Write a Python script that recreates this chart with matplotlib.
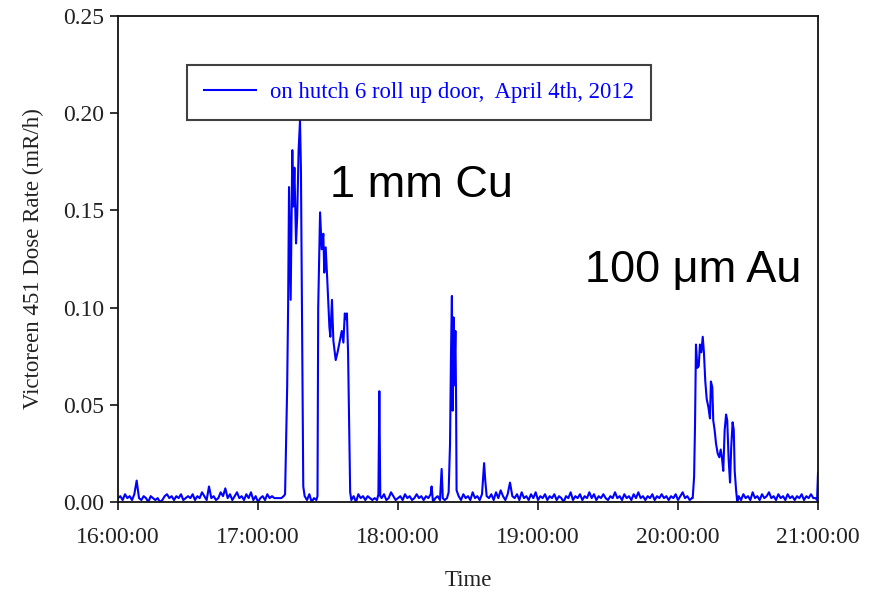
import matplotlib
matplotlib.use("Agg")
import matplotlib.pyplot as plt

# ---- data: minutes after 16:00:00 and Victoreen 451 dose rate (mR/h) ----
time_min = [
    0, 1, 2, 3, 4, 5, 6, 7, 8, 9, 10, 11, 12, 13, 14, 15, 16, 17, 18, 19,
    20, 21, 22, 23, 24, 25, 26, 27, 28, 29, 30, 31, 32, 33, 34, 35, 36, 37, 38, 39,
    40, 41, 42, 43, 44, 45, 46, 47, 48, 49, 50, 51, 52, 53, 54, 55, 56, 57, 58, 59,
    60, 61, 62, 63, 64, 65, 66, 67, 68, 69, 70, 71,
    71.6, 72.5, 72.9, 73.3, 74.0, 74.7, 75.1, 75.6, 76.3, 76.8, 77.4, 78.0, 78.4, 79.0, 79.4,
    80, 81, 82, 83, 84, 85, 85.5,
    85.8, 86.6, 87.3, 88.0, 88.4, 89.0, 89.7, 90.6, 91.0, 91.7, 92.3, 93.3, 94.1, 95.1,
    95.9, 96.6, 97.2, 97.7, 98.1, 98.6, 99.1, 99.5,
    100, 101, 102, 103, 104, 105, 106, 107, 108, 109, 110, 111, 111.6, 112.0, 112.4,
    113, 114, 115, 116, 117, 118, 119, 120, 121, 122, 123, 124, 125, 126, 127, 128,
    129, 130, 131, 132, 133, 134, 134.4, 135, 136, 137, 138, 138.7, 139.2, 140, 141, 141.7,
    142.3, 142.7, 143.1, 143.4, 143.8, 144.1, 144.6, 144.9, 145.1,
    146, 147, 148, 149, 150, 151, 152, 153, 154, 155, 156, 156.9, 157.4, 158, 159,
    160, 161, 162, 163, 164, 165, 166, 167, 168, 169, 170, 171, 172, 173, 174, 175,
    176, 177, 178, 179, 180, 181, 182, 183, 184, 185, 186, 187, 188, 189, 190, 191,
    192, 193, 194, 195, 196, 197, 198, 199, 200, 201, 202, 203, 204, 205, 206, 207,
    208, 209, 210, 211, 212, 213, 214, 215, 216, 217, 218, 219, 220, 221, 222, 223,
    224, 225, 226, 227, 228, 229, 230, 231, 232, 233, 234, 235, 236, 237, 238, 239,
    240, 241, 242, 243, 244, 245, 246, 246.3,
    246.9, 247.3, 247.7, 248.3, 248.9, 249.4, 250.0, 250.6, 251.1, 251.7, 252.3, 253.0,
    253.7, 254.1, 254.7, 255.1, 255.7, 256.3, 257.0, 257.7, 258.3, 258.9, 259.4, 260.0,
    260.6, 261.1, 261.7, 262.3, 262.8, 263.4, 263.9, 264.3, 264.9, 265.4,
    266, 267, 268, 269, 270, 271, 272, 273, 274, 275, 276, 277, 278, 279, 280, 281,
    282, 283, 284, 285, 286, 287, 288, 289, 290, 291, 292, 293, 294, 295, 296, 297,
    298, 299, 299.6, 300,
]
dose_rate = [
    0.002, 0.003, 0.001, 0.004, 0.002, 0.003, 0.001, 0.004, 0.011, 0.002, 0.001, 0.003, 0.002, 0.000, 0.003, 0.002, 0.001, 0.002, 0.000, 0.001,
    0.003, 0.004, 0.002, 0.003, 0.001, 0.003, 0.002, 0.004, 0.001, 0.002, 0.003, 0.002, 0.004, 0.001, 0.003, 0.002, 0.005, 0.003, 0.001, 0.008,
    0.002, 0.003, 0.001, 0.002, 0.005, 0.003, 0.007, 0.002, 0.004, 0.001, 0.003, 0.005, 0.002, 0.003, 0.001, 0.004, 0.002, 0.005, 0.001, 0.003,
    0.000, 0.002, 0.003, 0.001, 0.004, 0.002, 0.003, 0.002, 0.002, 0.002, 0.002, 0.003,
    0.004, 0.059, 0.100, 0.162, 0.104, 0.181, 0.152, 0.172, 0.133, 0.147, 0.181, 0.196, 0.171, 0.069, 0.008,
    0.003, 0.001, 0.004, 0.000, 0.002, 0.001, 0.003,
    0.100, 0.149, 0.130, 0.138, 0.118, 0.131, 0.114, 0.090, 0.085, 0.104, 0.083, 0.073, 0.077, 0.083,
    0.088, 0.082, 0.097, 0.094, 0.097, 0.077, 0.039, 0.005,
    0.001, 0.003, 0.000, 0.004, 0.002, 0.003, 0.001, 0.003, 0.002, 0.001, 0.002, 0.001, 0.004, 0.057, 0.003,
    0.002, 0.004, 0.001, 0.002, 0.005, 0.003, 0.001, 0.002, 0.003, 0.001, 0.004, 0.002, 0.003, 0.001, 0.002, 0.004,
    0.002, 0.003, 0.001, 0.003, 0.002, 0.004, 0.008, 0.000, 0.002, 0.003, 0.001, 0.017, 0.002, 0.001, 0.002, 0.005,
    0.030, 0.075, 0.106, 0.047, 0.095, 0.060, 0.088, 0.051, 0.006,
    0.003, 0.001, 0.004, 0.002, 0.003, 0.001, 0.005, 0.002, 0.003, 0.001, 0.004, 0.020, 0.011, 0.003, 0.002,
    0.004, 0.001, 0.005, 0.002, 0.006, 0.003, 0.001, 0.004, 0.010, 0.003, 0.002, 0.004, 0.001, 0.005, 0.002, 0.003,
    0.001, 0.004, 0.002, 0.005, 0.001, 0.003, 0.002, 0.004, 0.001, 0.003, 0.002, 0.004, 0.001, 0.003, 0.002, 0.000,
    0.003, 0.002, 0.005, 0.001, 0.003, 0.002, 0.004, 0.001, 0.003, 0.002, 0.005, 0.002, 0.004, 0.001, 0.003, 0.002,
    0.004, 0.002, 0.001, 0.003, 0.002, 0.005, 0.002, 0.003, 0.001, 0.004, 0.002, 0.003, 0.001, 0.004, 0.002, 0.005,
    0.002, 0.003, 0.001, 0.003, 0.002, 0.004, 0.001, 0.003, 0.002, 0.004, 0.002, 0.003, 0.001, 0.003, 0.002, 0.004,
    0.001, 0.003, 0.005, 0.002, 0.003, 0.001, 0.002, 0.002,
    0.013, 0.040, 0.081, 0.069, 0.070, 0.081, 0.077, 0.085, 0.077, 0.062, 0.053, 0.049,
    0.043, 0.062, 0.059, 0.042, 0.037, 0.030, 0.025, 0.023, 0.027, 0.022, 0.016, 0.037,
    0.045, 0.042, 0.022, 0.010, 0.028, 0.041, 0.037, 0.016, 0.006, 0.000,
    0.003, 0.001, 0.004, 0.002, 0.003, 0.001, 0.005, 0.002, 0.003, 0.001, 0.004, 0.002, 0.003, 0.005, 0.002, 0.003,
    0.001, 0.004, 0.002, 0.003, 0.001, 0.004, 0.002, 0.003, 0.001, 0.003, 0.002, 0.004, 0.001, 0.003, 0.002, 0.004,
    0.002, 0.002, 0.001, 0.015,
]
series_label = "on hutch 6 roll up door,  April 4th, 2012"
xtick_pos = [0, 60, 120, 180, 240, 300]
xtick_labels = ["16:00:00", "17:00:00", "18:00:00", "19:00:00", "20:00:00", "21:00:00"]
ytick_vals = [0.00, 0.05, 0.10, 0.15, 0.20, 0.25]
annotations = [("1 mm Cu", 90.9, 0.157), ("100 \u03bcm Au", 200.1, 0.1133)]

serif = ["Liberation Serif", "DejaVu Serif"]

fig = plt.figure(figsize=(8.82, 5.93), dpi=100)
ax = fig.add_axes([118 / 882, 91 / 593, 700 / 882, 486 / 593])

ax.plot(time_min, dose_rate, color="#0000ff", linewidth=1.5, label=series_label)

ax.set_xlim(0, 300)
ax.set_ylim(0, 0.25)
ax.set_xticks(xtick_pos)
ax.set_xticklabels(xtick_labels)
ax.set_yticks(ytick_vals)
ax.set_yticklabels([f"{v:.2f}" for v in ytick_vals])

for sp in ax.spines.values():
    sp.set_linewidth(1.3)
    sp.set_color("#111111")
ax.tick_params(axis="both", direction="out", length=6, width=1.2, color="#111111",
               labelsize=17, labelcolor="#222222", top=False, right=False)
ax.tick_params(axis="x", pad=12)
ax.tick_params(axis="y", pad=4)
for lab in ax.get_xticklabels() + ax.get_yticklabels():
    lab.set_family(serif)

ax.set_xlabel("Time", fontsize=16.5, family=serif, color="#222222", labelpad=16)
ax.set_ylabel("Victoreen 451 Dose Rate (mR/h)", fontsize=16.5, family=serif, color="#222222")
ax.yaxis.set_label_coords(-0.105, 0.5)

leg = ax.legend(loc="upper left", bbox_to_anchor=((187 - 118) / 700, (502 - 65) / 486),
                borderaxespad=0, fancybox=False, frameon=True, handlelength=2.3,
                handletextpad=0.6, borderpad=0.75, labelcolor="linecolor",
                prop={"family": serif, "size": 16.4})
leg.get_frame().set_edgecolor("#111111")
leg.get_frame().set_linewidth(1.5)

for text, tx, ty in annotations:
    ax.text(tx, ty, text, fontsize=32.5, family=["Liberation Sans", "DejaVu Sans"],
            color="black", ha="left", va="baseline")

fig.savefig("out.png", dpi=100)
